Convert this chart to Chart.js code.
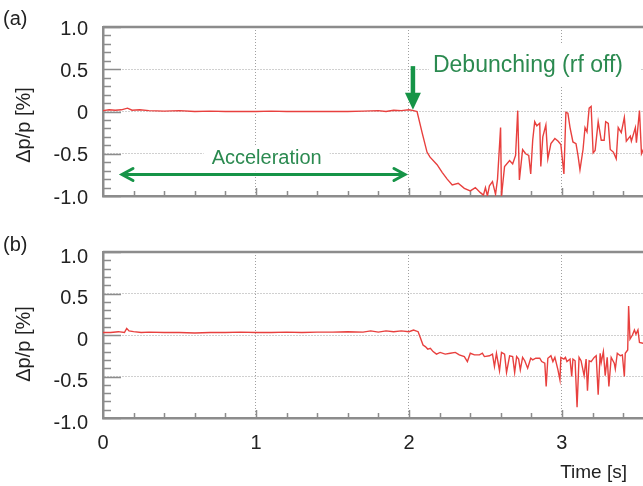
<!DOCTYPE html>
<html>
<head>
<meta charset="utf-8">
<script src="https://cdn.jsdelivr.net/npm/chart.js@4.4.0/dist/chart.umd.min.js"></script>
<style>
  html, body { margin: 0; padding: 0; background: #fff; }
  #wrap { position: relative; width: 643px; height: 486px; overflow: hidden; }
  #chartA { position: absolute; left: 0; top: 0; }
  #chartB { position: absolute; left: 0; top: 225px; }
</style>
</head>
<body>
<div id="wrap">
  <canvas id="chartA" width="643" height="225"></canvas>
  <canvas id="chartB" width="643" height="261"></canvas>
</div>
<script>
// panel (a): with debunching (rf off) after 2 s
const timeA = [0.00, 0.04, 0.08, 0.12, 0.16, 0.19, 0.24, 0.30, 0.40, 0.50, 0.60, 0.70, 0.80, 0.90,
  1.00, 1.10, 1.20, 1.30, 1.40, 1.50, 1.60, 1.70, 1.80, 1.85, 1.90, 1.95, 2.00, 2.03, 2.053,
  2.086, 2.118, 2.138, 2.184, 2.217, 2.250, 2.283, 2.322, 2.362, 2.401, 2.434, 2.467, 2.487,
  2.500, 2.513, 2.526, 2.546, 2.566, 2.579, 2.599, 2.605, 2.625, 2.658, 2.678, 2.697, 2.711,
  2.722, 2.743, 2.763, 2.783, 2.796, 2.809, 2.822, 2.836, 2.855, 2.862, 2.875, 2.895, 2.908,
  2.928, 2.954, 2.974, 2.993, 3.013, 3.026, 3.039, 3.053, 3.072, 3.092, 3.105, 3.118, 3.138,
  3.151, 3.164, 3.178, 3.191, 3.204, 3.217, 3.237, 3.257, 3.276, 3.286, 3.303, 3.316, 3.336,
  3.355, 3.368, 3.388, 3.408, 3.421, 3.447, 3.454, 3.480, 3.487, 3.507, 3.520, 3.539, 3.553];
const dpA = [0.01, 0.02, 0.015, 0.02, 0.04, 0.015, 0.02, 0.01, 0.005, 0.01, 0.0, 0.005, 0.0, 0.0,
  0.0, 0.005, 0.0, 0.0, 0.0, 0.0, 0.0, 0.005, 0.01, 0.0, 0.015, 0.01, 0.02, 0.01, 0.0,
  -0.25, -0.48, -0.54, -0.63, -0.72, -0.80, -0.87, -0.85, -0.91, -0.94, -0.90, -0.96, -0.99,
  -0.90, -1.00, -0.88, -0.83, -0.98, -0.80, -0.19, -1.00, -0.65, -0.58, -0.62, -0.52, 0.01,
  -0.81, -0.45, -0.50, -0.52, -0.74, -0.34, -0.12, -0.17, -0.14, -0.65, -0.30, -0.16, -0.56,
  -0.38, -0.32, -0.35, -0.39, -0.74, -0.01, -0.02, -0.19, -0.36, -0.38, -0.52, -0.69, -0.45,
  -0.19, -0.24, 0.04, 0.06, -0.49, -0.46, -0.12, -0.34, -0.34, -0.12, -0.14, -0.45, -0.48,
  -0.56, -0.19, -0.25, -0.07, -0.35, -0.29, -0.35, -0.19, -0.37, 0.01, -0.50, -0.42, -0.38];

// panel (b)
const timeB = [0.00, 0.05, 0.10, 0.14, 0.155, 0.17, 0.20, 0.25, 0.30, 0.40, 0.50, 0.60, 0.70, 0.80,
  0.90, 1.00, 1.10, 1.20, 1.30, 1.40, 1.50, 1.60, 1.70, 1.75, 1.80, 1.85, 1.90, 1.95, 2.00,
  2.03, 2.06, 2.074, 2.092, 2.107, 2.123, 2.140, 2.158, 2.180, 2.204, 2.237, 2.270, 2.303,
  2.329, 2.362, 2.382, 2.401, 2.428, 2.461, 2.480, 2.493, 2.526, 2.546, 2.559, 2.572, 2.592,
  2.605, 2.625, 2.638, 2.658, 2.678, 2.691, 2.704, 2.717, 2.728, 2.743, 2.757, 2.776, 2.796,
  2.809, 2.829, 2.855, 2.868, 2.888, 2.897, 2.908, 2.928, 2.941, 2.954, 2.974, 2.987, 2.993,
  3.013, 3.023, 3.033, 3.053, 3.064, 3.072, 3.086, 3.099, 3.112, 3.125, 3.145, 3.158, 3.167,
  3.178, 3.191, 3.211, 3.224, 3.237, 3.250, 3.257, 3.271, 3.283, 3.296, 3.307, 3.322, 3.342,
  3.349, 3.362, 3.382, 3.395, 3.408, 3.414, 3.430, 3.436, 3.445, 3.461, 3.474, 3.484, 3.497,
  3.507, 3.529, 3.553];
const dpB = [0.03, 0.03, 0.04, 0.03, 0.08, 0.05, 0.04, 0.03, 0.035, 0.03, 0.03, 0.025, 0.03, 0.03,
  0.035, 0.03, 0.03, 0.035, 0.03, 0.035, 0.035, 0.04, 0.035, 0.05, 0.035, 0.05, 0.04, 0.05, 0.04,
  0.06, 0.04, -0.03, -0.12, -0.14, -0.17, -0.16, -0.20, -0.23, -0.21, -0.23, -0.22, -0.21,
  -0.24, -0.26, -0.32, -0.22, -0.24, -0.24, -0.22, -0.26, -0.25, -0.23, -0.38, -0.22, -0.43,
  -0.21, -0.23, -0.45, -0.25, -0.26, -0.45, -0.26, -0.29, -0.42, -0.27, -0.31, -0.40, -0.28,
  -0.30, -0.28, -0.28, -0.32, -0.34, -0.62, -0.28, -0.25, -0.32, -0.27, -0.42, -0.54, -0.27,
  -0.29, -0.27, -0.32, -0.29, -0.50, -0.29, -0.31, -0.87, -0.27, -0.31, -0.49, -0.29, -0.67,
  -0.31, -0.32, -0.27, -0.25, -0.72, -0.22, -0.33, -0.20, -0.49, -0.27, -0.62, -0.27, -0.34,
  -0.41, -0.22, -0.25, -0.24, -0.50, -0.22, -0.18, 0.35, -0.05, 0.00, 0.06, 0.01, 0.06,
  -0.09, -0.10, -0.09];

const yTickLabels = { '1': '1.0', '0.5': '0.5', '0': '0', '-0.5': '-0.5', '-1': '-1.0' };
const xRange = [0, 3.53];

const FONT = "'Liberation Sans', Arial, Helvetica, sans-serif";
const GREEN_TEXT = '#2b8a50';
const GREEN_ARROW = '#169447';
const FRAME = '#8c8c8c';

// inner tick marks + top frame line
const framePlugin = {
  id: 'frame',
  beforeDatasetsDraw(chart) {
    const { ctx, chartArea: a, scales: { x, y } } = chart;
    ctx.save();
    ctx.strokeStyle = FRAME;
    ctx.lineWidth = 1.5;
    ctx.beginPath();
    for (let k = -10; k <= 10; k++) {
      const py = Math.round(y.getPixelForValue(k / 10)) + 0.5;
      const len = k % 5 === 0 ? 18 : 8;
      ctx.moveTo(a.left, py);
      ctx.lineTo(a.left + len, py);
    }
    for (let k = 1; k * 0.2 < x.max; k++) {
      const px = Math.round(x.getPixelForValue(k * 0.2)) + 0.5;
      const len = k % 5 === 0 ? 8 : 5;
      ctx.moveTo(px, a.bottom);
      ctx.lineTo(px, a.bottom - len);
    }
    ctx.stroke();
    ctx.lineWidth = 2.5;
    ctx.beginPath();
    ctx.moveTo(a.left, a.top);
    ctx.lineTo(a.right, a.top);
    ctx.stroke();
    ctx.restore();
  }
};

function drawYTitle(ctx, cy) {
  ctx.save();
  ctx.fillStyle = '#222';
  ctx.font = '20px ' + FONT;
  ctx.translate(24, cy);
  ctx.rotate(-Math.PI / 2);
  ctx.textAlign = 'center';
  ctx.textBaseline = 'middle';
  ctx.fillText('Δp/p [%]', 0, 0);
  ctx.restore();
}

const labelsA = {
  id: 'labelsA',
  afterDatasetsDraw(chart) {
    const { ctx, scales: { x, y } } = chart;
    ctx.save();
    ctx.fillStyle = '#222';
    ctx.font = '20px ' + FONT;
    ctx.fillText('(a)', 3, 25);
    drawYTitle(ctx, 125);

    // white boxes behind the annotations
    ctx.fillStyle = '#fff';
    const ax = x.getPixelForValue(1.07), ay = y.getPixelForValue(-0.56);
    ctx.fillRect(ax - 63, ay - 13, 126, 26);
    const dx = x.getPixelForValue(2.157), dy = y.getPixelForValue(0.54);
    ctx.fillRect(dx - 4, dy - 22, 212, 42);

    ctx.fillStyle = GREEN_TEXT;
    ctx.font = '20px ' + FONT;
    ctx.textAlign = 'center';
    ctx.textBaseline = 'middle';
    ctx.fillText('Acceleration', ax, ay);
    ctx.font = '23px ' + FONT;
    ctx.textAlign = 'left';
    ctx.fillText('Debunching (rf off)', dx, dy);

    // double arrow: acceleration period
    const x1 = x.getPixelForValue(0.124), x2 = x.getPixelForValue(1.974);
    const ya = y.getPixelForValue(-0.745);
    ctx.strokeStyle = GREEN_ARROW;
    ctx.lineWidth = 3;
    ctx.lineCap = 'round';
    ctx.beginPath();
    ctx.moveTo(x1, ya); ctx.lineTo(x2, ya);
    ctx.moveTo(x1 + 11, ya - 6); ctx.lineTo(x1, ya); ctx.lineTo(x1 + 11, ya + 6);
    ctx.moveTo(x2 - 11, ya - 6); ctx.lineTo(x2, ya); ctx.lineTo(x2 - 11, ya + 6);
    ctx.stroke();

    // down arrow: rf off
    const xd = x.getPixelForValue(2.026);
    const yTop = y.getPixelForValue(0.537), yTip = y.getPixelForValue(0.022);
    ctx.lineWidth = 4.5;
    ctx.lineCap = 'butt';
    ctx.beginPath();
    ctx.moveTo(xd, yTop); ctx.lineTo(xd, yTip - 12);
    ctx.stroke();
    ctx.fillStyle = GREEN_ARROW;
    ctx.beginPath();
    ctx.moveTo(xd - 8, yTip - 17);
    ctx.lineTo(xd + 8, yTip - 17);
    ctx.lineTo(xd, yTip);
    ctx.closePath();
    ctx.fill();
    ctx.restore();
  }
};

const labelsB = {
  id: 'labelsB',
  afterDatasetsDraw(chart) {
    const { ctx } = chart;
    ctx.save();
    ctx.fillStyle = '#222';
    ctx.font = '20px ' + FONT;
    ctx.fillText('(b)', 3, 26);
    drawYTitle(ctx, 119);
    ctx.font = '19px ' + FONT;
    ctx.textAlign = 'right';
    ctx.fillText('Time [s]', 627, 253);
    ctx.restore();
  }
};

function makeChart(canvasId, times, values, opts) {
  const points = times.map((t, i) => ({ x: t, y: values[i] }));
  return new Chart(document.getElementById(canvasId), {
    type: 'line',
    data: {
      datasets: [{
        data: points,
        borderColor: '#e8403e',
        borderWidth: 1.4,
        pointRadius: 0,
        tension: 0,
        fill: false
      }]
    },
    options: {
      responsive: false,
      animation: false,
      layout: { padding: { top: opts.top, bottom: opts.bottom, left: 0, right: 0 } },
      plugins: { legend: { display: false }, tooltip: { enabled: false } },
      scales: {
        x: {
          type: 'linear',
          min: xRange[0],
          max: xRange[1],
          afterFit: (s) => { s.height = opts.xHeight; },
          ticks: {
            display: opts.showX,
            stepSize: 1,
            includeBounds: false,
            autoSkip: false,
            padding: 13,
            color: '#222',
            font: { family: FONT, size: 20 },
            maxRotation: 0,
            callback: (v) => Number.isInteger(v) ? String(v) : ''
          },
          grid: {
            drawTicks: false,
            color: (c) => (c.tick && c.tick.value === 0) ? 'rgba(0,0,0,0)' : '#a0a0a0',
            lineWidth: 1
          },
          border: { color: FRAME, width: 2.5, dash: [1, 2] }
        },
        y: {
          min: -1,
          max: 1,
          afterFit: (s) => { s.width = 103; },
          ticks: {
            stepSize: 0.5,
            padding: 15,
            labelOffset: opts.labelOffset,
            color: '#222',
            font: { family: FONT, size: 20 },
            callback: (v) => yTickLabels[String(v)]
          },
          grid: {
            drawTicks: false,
            color: (c) => (c.tick && Math.abs(c.tick.value) === 1) ? 'rgba(0,0,0,0)' : '#a0a0a0',
            lineWidth: 1
          },
          border: { color: FRAME, width: 2.5, dash: [1, 2] }
        }
      }
    },
    plugins: [framePlugin, opts.labels]
  });
}

makeChart('chartA', timeA, dpA, { top: 14, bottom: 29, xHeight: 0, showX: false, labelOffset: 2, labels: labelsA });
makeChart('chartB', timeB, dpB, { top: 12, bottom: 0, xHeight: 68, showX: true, labelOffset: 5, labels: labelsB });
</script>
</body>
</html>
